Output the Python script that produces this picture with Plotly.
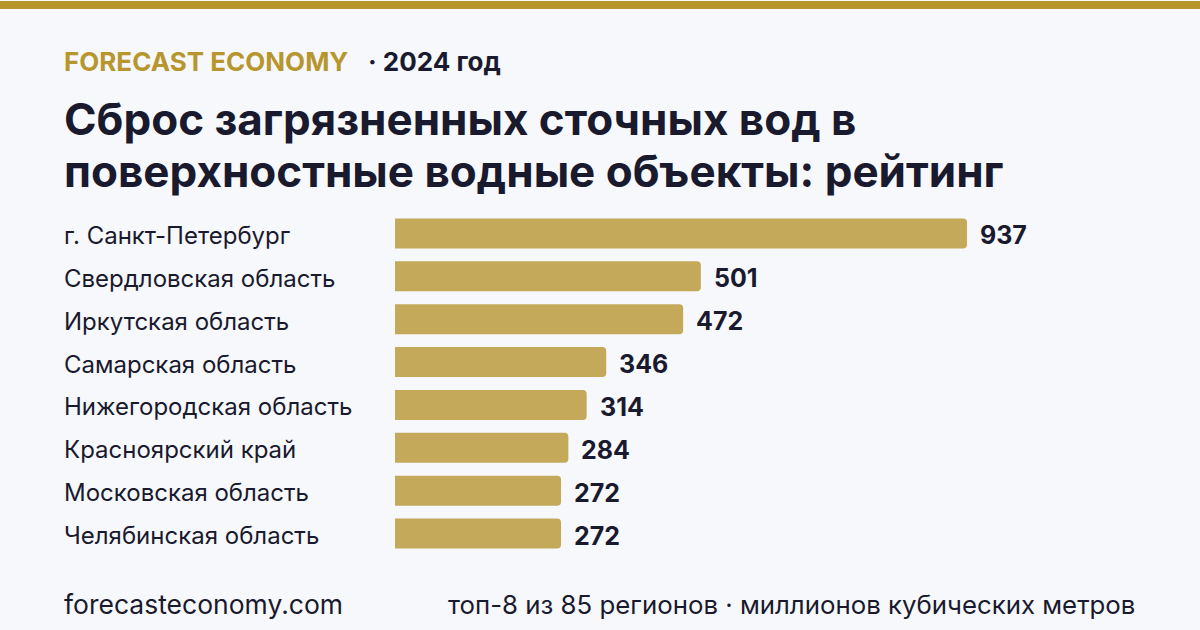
import plotly.graph_objects as go

regions = ["г. Санкт-Петербург", "Свердловская область", "Иркутская область", "Самарская область",
           "Нижегородская область", "Красноярский край", "Московская область", "Челябинская область"]
values = [937, 501, 472, 346, 314, 284, 272, 272]

brand = "FORECAST ECONOMY"
year_txt = "· 2024 год"
title_lines = ["Сброс загрязненных сточных вод в", "поверхностные водные объекты: рейтинг"]
footer_left = "forecasteconomy.com"
footer_right = "топ-8 из 85 регионов · миллионов кубических метров"

W, H = 1200, 630
L, R, T, B = 395, 65, 211.5, 74.5
pw = W - L - R
ph = H - T - B
xmax = 937 * pw / (967 - 395)
DARK = "#1A1A2E"

def px(x):
    return (x - L) / pw

def py(y):
    return (H - B - y) / ph

fig = go.Figure()
fig.add_trace(go.Bar(
    x=values, y=regions, orientation="h",
    marker=dict(color="#C4A95A", line=dict(width=0)),
    hoverinfo="skip",
))

ann = []
for r, v in zip(regions, values):
    ann.append(dict(x=v, y=r, xref="x", yref="y", text=f"<b>{v}</b>", showarrow=False,
                    xanchor="left", yanchor="middle", xshift=11, yshift=-2,
                    font=dict(family="Inter", size=25, color=DARK)))
    ann.append(dict(x=px(62), y=r, xref="paper", yref="y", text=r, showarrow=False,
                    xanchor="left", yanchor="middle", yshift=-2,
                    font=dict(family="Inter", size=24, color=DARK)))

ann.append(dict(x=px(62), y=py(61), xref="paper", yref="paper", showarrow=False,
                xanchor="left", yanchor="middle",
                text=f"<b>{brand}</b>", font=dict(family="Inter", size=26, color="#B8962E")))
ann.append(dict(x=px(366), y=py(61), xref="paper", yref="paper", showarrow=False,
                xanchor="left", yanchor="middle",
                text=f"<b>{year_txt}</b>", font=dict(family="Inter", size=26, color=DARK)))
for i, line in enumerate(title_lines):
    ann.append(dict(x=px(62), y=py(118 + 52 * i), xref="paper", yref="paper", showarrow=False,
                    xanchor="left", yanchor="middle",
                    text=f"<b>{line}</b>", font=dict(family="Inter", size=44, color=DARK)))
ann.append(dict(x=px(62), y=py(605), xref="paper", yref="paper", showarrow=False,
                xanchor="left", yanchor="middle",
                text=footer_left, font=dict(family="Inter", size=26.5, color=DARK)))
ann.append(dict(x=px(1137), y=py(605), xref="paper", yref="paper", showarrow=False,
                xanchor="right", yanchor="middle",
                text=footer_right, font=dict(family="Inter", size=25.8, color=DARK)))

fig.update_layout(
    width=W, height=H,
    margin=dict(l=L, r=R, t=T, b=B, pad=0),
    paper_bgcolor="#F7F8FC", plot_bgcolor="#F7F8FC",
    bargap=0.3, barcornerradius=4,
    showlegend=False,
    xaxis=dict(range=[0, xmax], visible=False, fixedrange=True),
    yaxis=dict(categoryorder="array", categoryarray=regions[::-1], visible=False, fixedrange=True),
    annotations=ann,
    shapes=[dict(type="rect", xref="paper", yref="paper", x0=px(0), x1=px(W), y0=py(0), y1=py(8),
                 fillcolor="#B8962E", line=dict(width=0), layer="above")],
)

fig.write_html("out.html", config={"displayModeBar": False})
